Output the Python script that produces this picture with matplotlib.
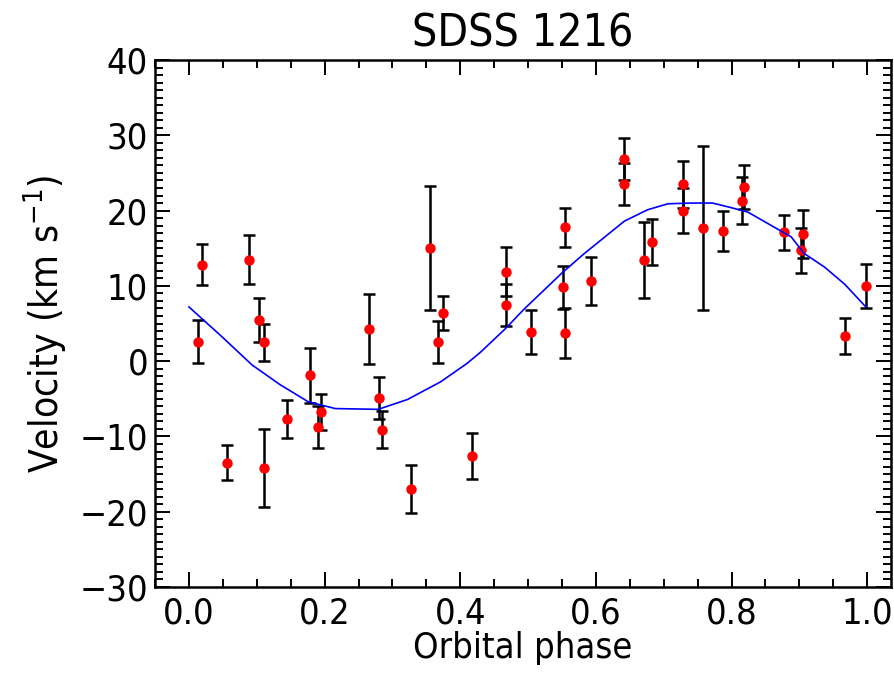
import numpy as np
import matplotlib
matplotlib.use('Agg')
import matplotlib.pyplot as plt
from matplotlib.ticker import MultipleLocator

plt.rcParams['font.family'] = ['DejaVu Sans']
plt.rcParams['font.stretch'] = 'condensed'

# measured radial velocities (phase, km/s, 1-sigma error)
phase = [0.014, 0.020, 0.056, 0.089, 0.103, 0.110, 0.110, 0.144, 0.179, 0.195,
         0.191, 0.266, 0.280, 0.285, 0.328, 0.355, 0.375, 0.367, 0.417, 0.467,
         0.467, 0.505, 0.555, 0.552, 0.555, 0.593, 0.641, 0.641, 0.671, 0.682,
         0.728, 0.728, 0.758, 0.788, 0.819, 0.815, 0.878, 0.906, 0.902, 0.967,
         0.998]
vel = [2.6, 12.8, -13.5, 13.5, 5.5, 2.5, -14.2, -7.7, -1.9, -6.7,
       -8.8, 4.3, -4.85, -9.1, -17.0, 15.0, 6.4, 2.5, -12.6, 11.9,
       7.5, 3.9, 17.8, 9.8, 3.7, 10.6, 26.8, 23.5, 13.4, 15.8,
       23.5, 20.0, 17.7, 17.3, 23.1, 21.3, 17.1, 16.9, 14.7, 3.3,
       10.0]
err = [2.8, 2.7, 2.3, 3.3, 2.9, 2.5, 5.2, 2.5, 3.7, 2.4,
       2.8, 4.65, 2.8, 2.5, 3.2, 8.2, 2.3, 2.8, 3.1, 3.3,
       2.8, 2.9, 2.6, 2.9, 3.3, 3.2, 2.8, 2.8, 5.05, 3.06,
       3.1, 2.95, 10.9, 2.7, 2.9, 3.1, 2.3, 3.2, 2.95, 2.4,
       2.9]

# fitted curve, vertices
fit_phase = [0.0, 0.048, 0.093, 0.134, 0.176, 0.216, 0.279, 0.322, 0.371, 0.41,
             0.43, 0.467, 0.494, 0.551, 0.583, 0.642, 0.676, 0.706, 0.74, 0.772,
             0.799, 0.824, 0.888, 0.907, 0.937, 0.967, 0.998]
fit_vel = [7.2, 3.3, -0.5, -3.1, -5.4, -6.3, -6.4, -5.1, -2.75, -0.3,
           1.2, 4.35, 6.9, 11.8, 14.3, 18.6, 20.1, 20.9, 21.0, 21.0,
           20.4, 19.8, 16.5, 14.3, 12.5, 10.2, 7.2]

fig = plt.figure(figsize=(8.94, 6.81), dpi=100)
ax = fig.add_axes([0.1734, 0.138, 0.8232, 0.7739])

ax.errorbar(phase, vel, yerr=err, fmt='none', ecolor='black', elinewidth=1.8,
            capsize=4, capthick=1.8, zorder=2)
ax.plot(phase, vel, 'o', color='red', markersize=7.5, markeredgewidth=0, zorder=3)
ax.plot(fit_phase, fit_vel, color='blue', linewidth=1.2, zorder=4)

ax.set_xlim(-0.05, 1.035)
ax.set_ylim(-30, 40)
ax.xaxis.set_major_locator(MultipleLocator(0.2))
ax.xaxis.set_minor_locator(MultipleLocator(0.05))
ax.yaxis.set_major_locator(MultipleLocator(10))
ax.yaxis.set_minor_locator(MultipleLocator(1))
ax.xaxis.set_major_formatter(matplotlib.ticker.FormatStrFormatter('%.1f'))
ax.tick_params(which='both', direction='in', top=True, right=True,
               labelsize=26, width=1.4)
ax.tick_params(axis='x', which='major', pad=7)
ax.tick_params(axis='y', which='major', pad=5)
ax.tick_params(which='major', length=11)
ax.tick_params(which='minor', length=6)
for s in ax.spines.values():
    s.set_linewidth(1.8)

ax.set_xlabel('Orbital phase', fontsize=26, labelpad=0)
ax.set_ylabel('Velocity (km s$^{-1}$)', fontsize=28, labelpad=8)
ax.set_title('SDSS 1216', fontsize=32, pad=10)

fig.savefig('out.png', dpi=100)
